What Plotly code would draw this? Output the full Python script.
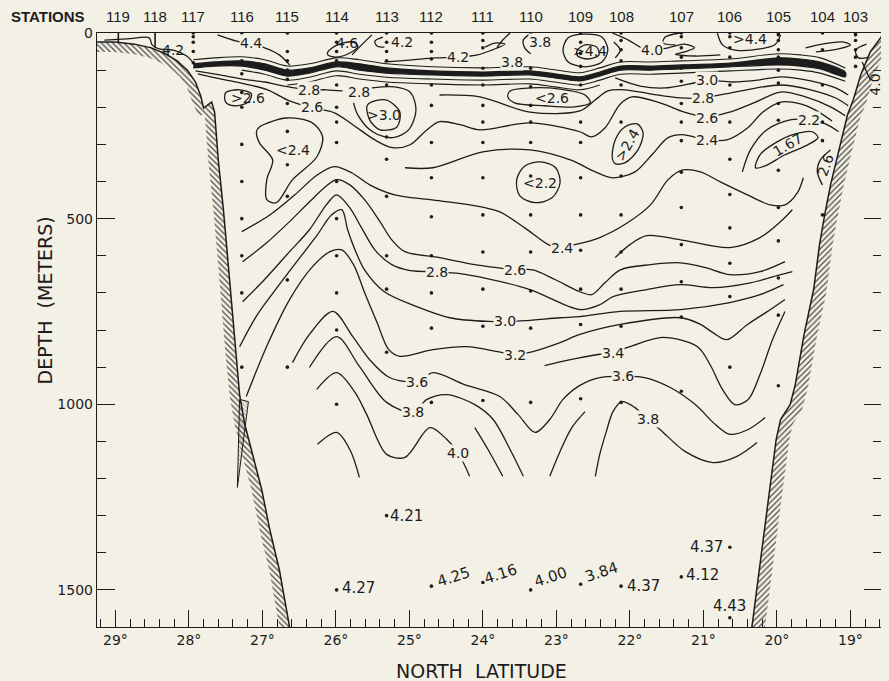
import math
import plotly.graph_objects as go

PAPER = "#f3f0e5"
INK = "#1c1c1c"
FONT = "DejaVu Sans"

LAT_MAX, LAT_MIN = 29.25, 18.57
DEPTH_MAX = 1600

# ---------------- stations ----------------
STATION_IDS = ["119", "118", "117", "116", "115", "114", "113", "112", "111",
               "110", "109", "108", "107", "106", "105", "104", "103"]
STATION_LAT = [28.96, 28.46, 27.94, 27.28, 26.66, 25.99, 25.31, 24.70, 24.00,
               23.35, 22.67, 22.12, 21.30, 20.64, 19.98, 19.38, 18.93]

SHALLOW_LAT = [28.96, 28.46]
SHALLOW_BOTTOM = [27, 40]

D117 = [0, 10, 25, 50, 80]
D116 = [0, 75, 110, 160, 200, 300, 400, 500, 600, 700, 900]
D115 = [0, 50, 75, 100, 125, 190, 265, 355, 440, 665, 900]
D114 = [0, 25, 50, 75, 140, 200, 240, 295, 400, 500, 600, 700, 800, 1000, 1500]
D113 = [0, 25, 50, 75, 105, 140, 280, 340, 440, 600, 690, 860, 1300]
D112 = [0, 25, 50, 70, 140, 195, 295, 390, 495, 600, 700, 795, 995, 1490]
D111 = [0, 20, 40, 95, 140, 195, 240, 295, 390, 490, 590, 690, 790, 990, 1480]
D110 = [0, 20, 40, 95, 145, 195, 240, 295, 385, 490, 590, 695, 795, 995, 1500]
D109 = [0, 25, 55, 90, 140, 240, 295, 390, 490, 585, 690, 785, 985, 1485]
D108 = [0, 20, 45, 75, 140, 240, 385, 490, 590, 690, 790, 995, 1490]
D107 = [0, 10, 40, 65, 95, 130, 190, 240, 290, 375, 470, 570, 670, 765, 965, 1465]
D106 = [0, 10, 40, 65, 140, 240, 340, 435, 525, 620, 710, 900, 1385, 1575]
D105 = [0, 5, 20, 45, 65, 100, 135, 190, 235, 370, 470, 560, 660, 760, 950]
D104 = [0, 45, 90, 140, 240, 290, 490]
D103 = [0, 5, 20, 45, 65, 90]

# deep single values
DEEP_LAT = [25.31, 25.99, 24.70, 24.00, 23.35, 22.67, 22.12, 21.30, 20.64, 20.64]
DEEP_DEPTH = [1302, 1496, 1490, 1480, 1498, 1485, 1490, 1465, 1385, 1575]
DEEP_TEXT = ["4.21", "4.27", "4.25", "4.16", "4.00", "3.84", "4.37", "4.12", "4.37", "4.43"]

# ---------------- topography ----------------
WEST_WALL_LAT = [29.25, 29.22, 29.01, 28.74, 28.51, 28.32, 28.16, 28.02, 27.91, 27.84,
                 27.80, 27.69, 27.65, 27.60, 27.53, 27.47, 27.42, 27.37, 27.31, 27.24,
                 27.16, 27.08, 27.01, 26.90, 26.77, 26.63]
WEST_WALL_DEP = [24, 24, 24, 30, 40, 56, 75, 100, 132, 169,
                 202, 186, 213, 342, 476, 611, 732, 853, 974, 1054,
                 1116, 1176, 1229, 1337, 1445, 1600]
SPIKE_LAT = [27.31, 27.19, 27.34, 27.31]
SPIKE_DEP = [987, 993, 1224, 987]
EAST_WALL_LAT = [18.57, 18.73, 18.86, 18.96, 19.04, 19.16, 19.27, 19.35, 19.42, 19.50,
                 19.63, 19.75, 19.82, 19.95, 20.01, 20.08, 20.16, 20.24, 20.34]
EAST_WALL_DEP = [8, 51, 113, 180, 221, 315, 409, 490, 570, 691,
                 812, 947, 1001, 1041, 1095, 1202, 1323, 1445, 1600]

# ---------------- thermocline ----------------
TC_LAT = [27.94, 27.65, 27.28, 26.97, 26.66, 26.36, 25.99, 25.68, 25.31, 24.70, 24.00, 23.36,
          23.02, 22.68, 22.41, 22.13, 21.72, 21.31, 20.64, 19.98, 19.68, 19.41, 19.07]
TC_TOP = [83, 78, 75, 83, 100, 94, 78, 83, 94, 102, 105, 102,
          110, 118, 105, 89, 89, 86, 81, 67, 70, 78, 105]
TC_BOTTOM = [94, 89, 89, 100, 116, 108, 91, 100, 108, 113, 116, 113,
             121, 129, 116, 100, 100, 97, 91, 86, 89, 97, 118]
ABOVE_TC_DEP = [72, 67, 64, 72, 89, 83, 67, 72, 83, 91, 94, 91,
                99, 107, 94, 78, 78, 75, 70, 56, 59, 67, 94]
BELOW1_LAT = [27.28, 26.97, 26.66, 26.36, 25.99, 25.68, 25.31, 24.70, 24.00, 23.36, 23.02,
              22.68, 22.41, 22.13, 21.72, 21.31, 20.64, 19.98, 19.68, 19.41, 19.07]
BELOW1_DEP = [100, 111, 127, 119, 102, 111, 119, 124, 127, 124, 132,
              140, 127, 111, 111, 108, 102, 97, 100, 108, 130]
BELOW2_LAT = [26.66, 26.36, 25.99, 25.68, 25.31, 24.70, 24.00, 23.36, 23.02, 22.68, 22.41]
BELOW2_DEP = [140, 132, 115, 124, 132, 137, 140, 137, 145, 153, 140]

# ---------------- isotherms (lat, depth) ----------------
ISO42_W_LAT = [29.15, 28.84, 28.54, 28.50, 28.40, 28.21, 28.03, 27.95]
ISO42_W_DEP = [19, 16, 13, 32, 43, 46, 62, 78]
ISO44_W_LAT = [27.61, 27.35, 27.15, 26.97, 26.77, 26.63]
ISO44_W_DEP = [5, 22, 30, 40, 59, 86]
ISO46_LOOP_LAT = [26.11, 25.98, 25.78, 25.70, 25.81, 26.00, 26.11, 26.11]
ISO46_LOOP_DEP = [51, 32, 24, 35, 54, 65, 59, 51]
ISO46_TAIL_LAT = [25.78, 25.65, 25.51]
ISO46_TAIL_DEP = [59, 32, 5]
ISO42_C_LAT = [25.36, 25.47, 25.44, 25.34]
ISO42_C_DEP = [11, 22, 35, 38]
ISO42_M_LAT = [25.34, 24.99, 24.65, 24.34, 24.07, 23.88, 23.70, 23.84, 23.97]
ISO42_M_DEP = [78, 73, 67, 65, 59, 46, 30, 27, 38]
ISO38_A_LAT = [23.63, 23.73, 23.81]
ISO38_A_DEP = [0, 19, 40]
ISO38_B_LAT = [23.36, 23.45, 23.43, 23.35]
ISO38_B_DEP = [3, 19, 40, 56]
ISO44_OUT_LAT = [22.91, 22.84, 22.61, 22.38, 22.30, 22.38, 22.61, 22.84, 22.91]
ISO44_OUT_DEP = [46, 13, 3, 11, 46, 78, 91, 78, 46]
ISO44_IN_LAT = [22.72, 22.61, 22.45, 22.42, 22.57, 22.71, 22.72]
ISO44_IN_DEP = [48, 32, 38, 59, 70, 62, 48]
ISO40_BR_LAT = [22.22, 22.13, 22.20]
ISO40_BR_DEP = [24, 46, 67]
ISO40_M_LAT = [22.24, 22.02, 21.86, 21.70, 21.48, 21.26, 21.12, 21.26, 21.38, 21.11, 20.77]
ISO40_M_DEP = [0, 19, 38, 46, 40, 30, 40, 51, 57, 62, 59]
ISO44_BOWL_LAT = [20.81, 20.74, 20.57, 20.23, 20.02, 19.95]
ISO44_BOWL_DEP = [0, 32, 46, 43, 30, 5]
ISO42_E1_LAT = [21.32, 21.52, 21.55, 21.38]
ISO42_E1_DEP = [0, 11, 27, 32]
ISO42_E2_LAT = [19.61, 19.38, 19.11, 19.00, 19.16, 19.47]
ISO42_E2_DEP = [40, 30, 24, 32, 43, 51]
ISO40_E_LAT = [18.78, 18.93, 18.89, 18.75]
ISO40_E_DEP = [30, 46, 67, 65]
ISO40_LEAD_LAT = [18.84, 18.73]
ISO40_LEAD_DEP = [78, 126]

ISO28_W_LAT = [27.91, 27.58, 27.27, 26.97, 26.70, 26.36, 26.13, 25.91]
ISO28_W_DEP = [102, 113, 124, 132, 143, 153, 153, 156]
ISO28_HOOK_LAT = [25.51, 25.20, 24.99, 24.91, 25.01, 25.23, 25.50, 25.70, 25.76]
ISO28_HOOK_DEP = [148, 145, 159, 207, 261, 282, 266, 221, 188]
ISO30_CORE_LAT = [25.57, 25.32, 25.13, 25.17, 25.40, 25.54, 25.57]
ISO30_CORE_DEP = [194, 180, 213, 253, 261, 234, 194]
ISO26_LAT = [27.88, 27.56, 27.24, 26.93, 26.63, 26.32, 26.02, 25.77, 25.47, 25.23, 24.99, 24.79,
             24.59, 24.31, 24.04, 23.36, 22.68, 22.52, 22.34, 22.13, 21.97, 21.59, 21.26, 20.95,
             20.64, 20.29, 19.95, 19.61, 19.27, 19.07]
ISO26_DEP = [110, 124, 137, 153, 183, 202, 215, 247, 288, 309, 301, 266,
             239, 247, 261, 242, 266, 280, 256, 191, 172, 188, 213, 226,
             213, 186, 159, 172, 199, 223]
ISO26_LOOP_W_LAT = [27.50, 27.31, 27.15, 27.19, 27.38, 27.50, 27.50]
ISO26_LOOP_W_DEP = [161, 153, 164, 186, 196, 186, 161]
ISO24_LOOP_W_LAT = [27.04, 26.67, 26.32, 26.18, 26.26, 26.59, 26.81, 26.94, 26.94, 26.86, 27.04, 27.08, 27.04]
ISO24_LOOP_W_DEP = [253, 229, 242, 280, 334, 395, 457, 449, 395, 342, 296, 266, 253]
ISO26_LOOP_E_LAT = [23.63, 23.36, 22.95, 22.61, 22.54, 22.75, 23.16, 23.57, 23.66, 23.63]
ISO26_LOOP_E_DEP = [156, 148, 151, 167, 188, 199, 196, 188, 172, 156]
ISO28_E_LAT = [24.59, 24.04, 23.36, 22.68, 22.47, 22.30, 22.07, 21.72, 21.31, 21.01, 20.70,
               20.36, 19.95, 19.54, 19.20, 19.03]
ISO28_E_DEP = [167, 172, 213, 210, 180, 156, 153, 164, 175, 175, 164, 151, 140, 153, 175, 196]
ISO30_E_LAT = [22.20, 21.86, 21.52, 21.21, 20.95, 20.60, 20.23, 19.95, 19.54, 19.20, 19.03]
ISO30_E_DEP = [121, 143, 148, 138, 128, 132, 126, 118, 129, 148, 167]
ISO24_E_LAT = [25.06, 24.68, 24.00, 23.36, 22.81, 22.47, 22.24, 21.93, 21.70, 21.48, 21.29,
               20.95, 20.68, 20.40, 20.19, 19.95, 19.68, 19.48, 19.25]
ISO24_E_DEP = [363, 363, 320, 315, 342, 374, 390, 374, 328, 282, 274,
               288, 288, 256, 213, 186, 191, 207, 237]
ISO24_LOOP_E_LAT = [22.24, 22.20, 22.07, 21.90, 21.82, 21.89, 22.07, 22.20, 22.24]
ISO24_LOOP_E_DEP = [336, 288, 253, 245, 269, 315, 350, 352, 336]
ISO22_LOOP_LAT = [23.54, 23.43, 23.22, 23.01, 22.95, 23.06, 23.29, 23.50, 23.54]
ISO22_LOOP_DEP = [395, 358, 347, 363, 404, 444, 457, 438, 395]
ISO22_E_LAT = [20.47, 20.36, 20.14, 19.82, 19.57, 19.34, 19.16]
ISO22_E_DEP = [374, 315, 261, 234, 234, 245, 266]
ISO167_LAT = [20.29, 20.23, 20.02, 19.75, 19.52, 19.44, 19.61, 19.89, 20.16, 20.29]
ISO167_DEP = [363, 328, 296, 272, 266, 282, 304, 328, 358, 363]
ISO26_HOOK_LAT = [19.27, 19.41, 19.45, 19.38]
ISO26_HOOK_DEP = [315, 342, 374, 409]

ISO24_S_LAT = [27.28, 26.90, 26.56, 26.25, 26.02, 25.78, 25.54, 25.20, 24.72, 24.18, 23.77, 23.43,
               23.11, 22.99, 22.75, 22.41, 22.07, 21.72, 21.48, 21.28, 21.04, 20.77, 20.40, 20.09,
               19.89, 19.72, 19.64]
ISO24_S_DEP = [535, 490, 436, 382, 360, 377, 409, 436, 449, 463, 482, 525,
               570, 578, 570, 551, 516, 463, 395, 369, 374, 401, 436, 463,
               463, 430, 390]
ISO26_S_LAT = [27.27, 26.97, 26.63, 26.33, 26.11, 25.99, 25.81, 25.61, 25.40, 25.24, 25.06, 24.59,
               24.11, 23.81, 23.56, 23.32, 23.02, 22.68, 22.52, 22.34, 22.13, 21.72, 21.31, 20.97,
               20.64, 20.23, 19.89]
ISO26_S_DEP = [616, 570, 508, 449, 409, 395, 409, 449, 508, 557, 589, 605,
               624, 632, 638, 638, 664, 697, 705, 673, 638, 624, 619, 632,
               651, 643, 616]
ISO25_S_LAT = [22.20, 22.00, 21.77, 21.31, 20.64, 20.23, 19.95, 19.79]
ISO25_S_DEP = [605, 570, 546, 557, 578, 551, 508, 476]
ISO28_S_LAT = [27.27, 26.97, 26.63, 26.36, 26.13, 25.99, 25.81, 25.65, 25.47, 25.24, 24.99, 24.63,
               24.31, 24.00, 23.36, 22.68, 22.41, 22.23, 21.77, 21.31, 20.87, 20.36, 19.95, 19.79]
ISO28_S_DEP = [724, 664, 589, 530, 463, 436, 471, 525, 584, 624, 640, 643,
               648, 659, 691, 745, 732, 710, 691, 678, 686, 673, 651, 643]
ISO30_S_LAT = [27.31, 27.07, 26.77, 26.49, 26.25, 26.06, 25.92, 25.84, 25.74, 25.61, 25.34, 24.90,
               24.45, 23.93, 23.70, 23.43, 22.95, 22.68, 22.13, 21.31, 20.64, 20.23, 19.91]
ISO30_S_DEP = [845, 759, 678, 605, 543, 490, 476, 530, 584, 638, 697, 737,
               767, 777, 777, 775, 767, 764, 750, 745, 726, 705, 678]
ISO32_S_LAT = [27.22, 26.93, 26.63, 26.33, 26.08, 25.92, 25.76, 25.61, 25.44, 25.28, 25.13, 24.68,
               24.22, 23.80, 23.56, 23.32, 22.95, 22.68, 22.13, 21.31, 21.04, 20.87, 20.68, 20.40,
               20.05, 19.89]
ISO32_S_DEP = [979, 839, 718, 632, 589, 584, 624, 699, 780, 853, 871, 853,
               845, 858, 866, 858, 834, 812, 785, 767, 785, 807, 826, 785,
               740, 718]
ISO34_S_LAT = [23.16, 22.81, 22.43, 22.23, 22.00, 21.55, 21.08, 20.91, 20.74, 20.57, 20.39, 20.23, 20.06, 19.89]
ISO34_S_DEP = [896, 880, 866, 861, 845, 820, 845, 893, 960, 1001, 987, 920, 826, 750]
ISO36_S_LAT = [26.59, 26.36, 26.04, 25.77, 25.54, 25.27, 24.89, 24.68, 24.25, 23.77, 23.52, 23.29,
               23.09, 22.91, 22.68, 22.41, 22.10, 21.80, 21.45, 21.11, 20.84, 20.64, 20.39, 20.16]
ISO36_S_DEP = [888, 812, 750, 818, 880, 928, 939, 915, 947, 979, 1028, 1076,
               1041, 987, 949, 928, 925, 928, 955, 1001, 1054, 1081, 1068, 1036]
ISO38_W_LAT = [26.36, 25.99, 25.68, 25.31, 24.95, 24.76, 24.49, 24.11, 23.86, 23.63, 23.45]
ISO38_W_DEP = [901, 818, 898, 995, 1022, 987, 974, 1001, 1041, 1122, 1194]
ISO40_W_LAT = [26.26, 25.99, 25.74, 25.58, 25.31, 25.06, 24.72, 24.49, 24.34, 24.18]
ISO40_W_DEP = [960, 915, 968, 1028, 1135, 1143, 1063, 1095, 1130, 1194]
ISO40_W2_LAT = [26.25, 25.99, 25.81, 25.68]
ISO40_W2_DEP = [1108, 1076, 1122, 1197]
ISO40_W3_LAT = [24.11, 23.93, 23.73]
ISO40_W3_DEP = [1063, 1122, 1194]
ISO38_C_LAT = [23.09, 22.95, 22.79, 22.61]
ISO38_C_DEP = [1194, 1127, 1063, 1020]
ISO38_E_LAT = [22.47, 22.41, 22.32, 22.23, 22.11, 21.93, 21.76, 21.59, 21.25, 20.87, 20.55, 20.27]
ISO38_E_DEP = [1194, 1135, 1073, 1020, 993, 1009, 1041, 1068, 1127, 1157, 1141, 1103]

# ---------------- contour labels ----------------
LINE_LABEL_LAT = [28.21, 27.15, 25.10, 24.34, 23.22, 23.61, 21.70, 26.36, 25.68, 26.32, 20.95, 21.01,
                  20.95, 20.95, 19.57, 22.92, 23.56, 24.63, 23.70, 23.56, 22.23, 24.89, 22.10, 24.95,
                  21.76, 24.34]
LINE_LABEL_DEP = [46, 27, 24, 65, 24, 78, 46, 153, 159, 199, 228, 176,
                  127, 288, 234, 578, 638, 643, 777, 866, 861, 939, 925, 1022,
                  1041, 1130]
LINE_LABEL_TEXT = ["4.2", "4.4", "4.2", "4.2", "3.8", "3.8", "4.0", "2.8", "2.8", "2.6", "2.6", "2.8",
                   "3.0", "2.4", "2.2", "2.4", "2.6", "2.8", "3.0", "3.2", "3.4", "3.6", "3.6", "3.8",
                   "3.8", "4.0"]
LOOP_LABEL_LAT = [25.85, 22.54, 20.36, 27.19, 26.59, 25.34, 23.06, 22.04, 23.22, 19.86, 19.34, 18.67]
LOOP_LABEL_DEP = [27, 48, 16, 175, 315, 221, 175, 301, 404, 301, 355, 140]
LOOP_LABEL_TEXT = ["4.6", ">4.4", ">4.4", ">2.6", "<2.4", ">3.0", "<2.6", ">2.4", "<2.2", "1.67", "2.6", "4.0"]
LOOP_LABEL_ANGLE = [0, 0, 0, 0, 0, 0, 0, -60, 0, -30, -70, -90]

X_TICKS = [29, 28, 27, 26, 25, 24, 23, 22, 21, 20, 19]
Y_TICKS = [0, 500, 1000, 1500]

# ---------------- drawing helpers ----------------
PLOT_W, PLOT_H = 785, 594
PXD = PLOT_W / (LAT_MAX - LAT_MIN)
PXM = PLOT_H / DEPTH_MAX


def offset_band(lats, deps, width, side):
    xs = [(LAT_MAX - la) * PXD for la in lats]
    ys = [d * PXM for d in deps]
    n = len(xs)
    olat, odep = [], []
    for i in range(n):
        i0, i1 = max(i - 1, 0), min(i + 1, n - 1)
        dx, dy = xs[i1] - xs[i0], ys[i1] - ys[i0]
        L = math.hypot(dx, dy) or 1.0
        nx, ny = -dy / L * side, dx / L * side
        x2, y2 = xs[i] + width * nx, ys[i] + width * ny
        olat.append(LAT_MAX - x2 / PXD)
        odep.append(y2 / PXM)
    return olat, odep


fig = go.Figure()


def hatch(lats, deps, width, side, shape):
    olat, odep = offset_band(lats, deps, width, side)
    fig.add_trace(go.Scatter(
        x=list(lats) + olat[::-1], y=list(deps) + odep[::-1],
        fill="toself", mode="none", fillcolor="rgba(0,0,0,0)",
        fillpattern=dict(shape=shape, fgcolor="#4a4a4a", bgcolor="rgba(0,0,0,0)",
                         size=4, solidity=0.3, fillmode="replace"),
        hoverinfo="skip"))


def line(lats, deps, width=1.3, shape="spline"):
    fig.add_trace(go.Scatter(x=lats, y=deps, mode="lines",
                             line=dict(color=INK, width=width, shape=shape, smoothing=0.9),
                             hoverinfo="skip"))


# walls
hatch(WEST_WALL_LAT, WEST_WALL_DEP, 10, 1, "\\")
hatch(EAST_WALL_LAT, EAST_WALL_DEP, 13, -1, "/")
fig.add_trace(go.Scatter(x=SPIKE_LAT, y=SPIKE_DEP, fill="toself", mode="lines",
                         line=dict(color=INK, width=1), fillcolor="rgba(0,0,0,0)",
                         fillpattern=dict(shape="\\", fgcolor="#4a4a4a", size=3, solidity=0.3),
                         hoverinfo="skip"))
line(WEST_WALL_LAT, WEST_WALL_DEP, 1.5, "linear")
line(EAST_WALL_LAT, EAST_WALL_DEP, 1.5, "linear")

# thermocline band
fig.add_trace(go.Scatter(x=TC_LAT + TC_LAT[::-1], y=TC_TOP + TC_BOTTOM[::-1],
                         fill="toself", fillcolor=INK, mode="lines",
                         line=dict(color=INK, width=1.2, shape="spline", smoothing=0.8),
                         hoverinfo="skip"))
line(TC_LAT, ABOVE_TC_DEP, 1.1)
line(BELOW1_LAT, BELOW1_DEP, 1.1)
line(BELOW2_LAT, BELOW2_DEP, 1.1)

ISOLINES = [
    (ISO42_W_LAT, ISO42_W_DEP), (ISO44_W_LAT, ISO44_W_DEP), (ISO46_LOOP_LAT, ISO46_LOOP_DEP),
    (ISO46_TAIL_LAT, ISO46_TAIL_DEP), (ISO42_C_LAT, ISO42_C_DEP), (ISO42_M_LAT, ISO42_M_DEP),
    (ISO38_A_LAT, ISO38_A_DEP), (ISO38_B_LAT, ISO38_B_DEP), (ISO44_OUT_LAT, ISO44_OUT_DEP),
    (ISO44_IN_LAT, ISO44_IN_DEP), (ISO40_BR_LAT, ISO40_BR_DEP), (ISO40_M_LAT, ISO40_M_DEP),
    (ISO44_BOWL_LAT, ISO44_BOWL_DEP), (ISO42_E1_LAT, ISO42_E1_DEP), (ISO42_E2_LAT, ISO42_E2_DEP),
    (ISO40_E_LAT, ISO40_E_DEP), (ISO40_LEAD_LAT, ISO40_LEAD_DEP),
    (ISO28_W_LAT, ISO28_W_DEP), (ISO28_HOOK_LAT, ISO28_HOOK_DEP), (ISO30_CORE_LAT, ISO30_CORE_DEP),
    (ISO26_LAT, ISO26_DEP), (ISO26_LOOP_W_LAT, ISO26_LOOP_W_DEP), (ISO24_LOOP_W_LAT, ISO24_LOOP_W_DEP),
    (ISO26_LOOP_E_LAT, ISO26_LOOP_E_DEP), (ISO28_E_LAT, ISO28_E_DEP), (ISO30_E_LAT, ISO30_E_DEP),
    (ISO24_E_LAT, ISO24_E_DEP), (ISO24_LOOP_E_LAT, ISO24_LOOP_E_DEP), (ISO22_LOOP_LAT, ISO22_LOOP_DEP),
    (ISO22_E_LAT, ISO22_E_DEP), (ISO167_LAT, ISO167_DEP), (ISO26_HOOK_LAT, ISO26_HOOK_DEP),
    (ISO24_S_LAT, ISO24_S_DEP), (ISO26_S_LAT, ISO26_S_DEP), (ISO25_S_LAT, ISO25_S_DEP),
    (ISO28_S_LAT, ISO28_S_DEP), (ISO30_S_LAT, ISO30_S_DEP), (ISO32_S_LAT, ISO32_S_DEP),
    (ISO34_S_LAT, ISO34_S_DEP), (ISO36_S_LAT, ISO36_S_DEP), (ISO38_W_LAT, ISO38_W_DEP),
    (ISO40_W_LAT, ISO40_W_DEP), (ISO40_W2_LAT, ISO40_W2_DEP), (ISO40_W3_LAT, ISO40_W3_DEP),
    (ISO38_C_LAT, ISO38_C_DEP), (ISO38_E_LAT, ISO38_E_DEP),
]
for la, de in ISOLINES:
    line(la, de)

# shallow station casts
for la, bot in zip(SHALLOW_LAT, SHALLOW_BOTTOM):
    line([la, la], [0, bot], 1.6, "linear")

# sample dots
SAMPLE_SETS = [D117, D116, D115, D114, D113, D112, D111, D110, D109, D108, D107, D106, D105, D104, D103]
dot_x, dot_y = [], []
for la, deps in zip(STATION_LAT[2:], SAMPLE_SETS):
    dot_x += [la] * len(deps)
    dot_y += deps
fig.add_trace(go.Scatter(x=dot_x, y=dot_y, mode="markers",
                         marker=dict(color=INK, size=3.6), hoverinfo="skip"))

annotations = []
lab_font = dict(family=FONT, size=14, color=INK)
for la, de, tx in zip(LINE_LABEL_LAT, LINE_LABEL_DEP, LINE_LABEL_TEXT):
    masked = not (la > 28)
    annotations.append(dict(x=la, y=de, xref="x", yref="y", text=tx, showarrow=False,
                            font=lab_font, bgcolor=PAPER if masked else "rgba(0,0,0,0)",
                            borderpad=0, xanchor="center", yanchor="middle"))
for la, de, tx, ang in zip(LOOP_LABEL_LAT, LOOP_LABEL_DEP, LOOP_LABEL_TEXT, LOOP_LABEL_ANGLE):
    annotations.append(dict(x=la, y=de, xref="x", yref="y", text=tx, showarrow=False,
                            font=lab_font, textangle=ang, xanchor="center", yanchor="middle"))

DEEP_STYLE = [(20, 0, 0), (22, 0, 0), (22, 9, -18), (18, 8, -18), (20, 12, -18),
              (21, 12, -18), (22, 0, 0), (21, 2, 0), (-23, 0, 0), (0, 12, 0)]
deep_font = dict(family=FONT, size=15, color=INK)
for la, de, tx, (xs, ys, ang) in zip(DEEP_LAT, DEEP_DEPTH, DEEP_TEXT, DEEP_STYLE):
    annotations.append(dict(x=la, y=de, xref="x", yref="y", text=tx, showarrow=False,
                            font=deep_font, textangle=ang, xshift=xs, yshift=ys,
                            xanchor="center", yanchor="middle"))

# station header
st_font = dict(family="Liberation Sans", size=15, color=INK)
for sid, la in zip(STATION_IDS, STATION_LAT):
    annotations.append(dict(x=la, y=1.027, xref="x", yref="paper", text=sid, showarrow=False,
                            font=st_font, xanchor="center", yanchor="middle"))
annotations.append(dict(x=-0.112, y=1.027, xref="paper", yref="paper", text="<b>STATIONS</b>",
                        showarrow=False, font=st_font, xanchor="left", yanchor="middle"))
annotations.append(dict(x=0.49, y=-0.074, xref="paper", yref="paper", text="NORTH  LATITUDE",
                        showarrow=False, font=dict(family=FONT, size=19, color=INK),
                        xanchor="center", yanchor="middle"))
annotations.append(dict(x=-0.066, y=0.55, xref="paper", yref="paper", text="DEPTH  (METERS)",
                        showarrow=False, textangle=-90, font=dict(family=FONT, size=19, color=INK),
                        xanchor="center", yanchor="middle"))

# page body has an 8 px margin: the figure is sized so that the plot area lands at
# x 97..882 and y 33..627 of the window
fig.update_layout(
    width=881, height=673,
    margin=dict(l=89, r=7, t=25, b=54),
    paper_bgcolor=PAPER, plot_bgcolor=PAPER,
    showlegend=False,
    annotations=annotations,
    xaxis=dict(range=[LAT_MAX, LAT_MIN], tickmode="array", tickvals=X_TICKS,
               ticktext=[f"{v}°" for v in X_TICKS], ticks="inside", ticklen=17,
               tickwidth=1.2, tickcolor=INK, showgrid=False, zeroline=False,
               showline=True, linecolor=INK, linewidth=1.4, mirror=True,
               tickfont=dict(family=FONT, size=14, color=INK),
               minor=dict(dtick=0.2, tick0=19, ticks="inside", ticklen=8, tickwidth=1.1,
                          tickcolor=INK, showgrid=False)),
    yaxis=dict(range=[DEPTH_MAX, 0], tickmode="array", tickvals=Y_TICKS,
               ticktext=[str(v) for v in Y_TICKS], ticks="inside", ticklen=18,
               tickwidth=1.2, tickcolor=INK, showgrid=False, zeroline=False,
               showline=True, linecolor=INK, linewidth=1.4, mirror="ticks",
               tickfont=dict(family=FONT, size=14, color=INK),
               minor=dict(dtick=100, tick0=0, ticks="inside", ticklen=9, tickwidth=1.1,
                          tickcolor=INK, showgrid=False)),
)

fig.write_html("out.html",
               post_script="document.body.style.backgroundColor='" + PAPER + "';")
